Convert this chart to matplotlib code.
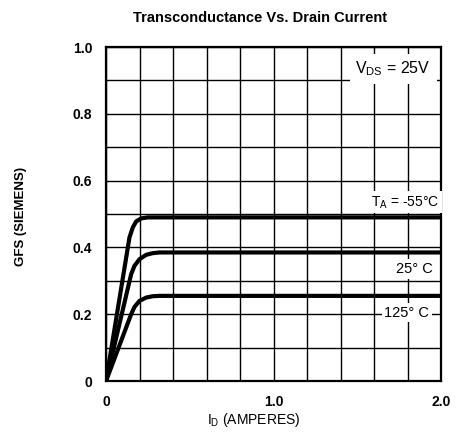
import matplotlib
matplotlib.use("Agg")
import matplotlib.pyplot as plt
import numpy as np

plt.rcParams['font.family'] = ['Liberation Sans', 'DejaVu Sans']

# Data
id_m55 = [0.0, 0.14, 0.16, 0.18, 0.21, 0.25, 0.30, 2.0]
gfs_m55 = [0.0, 0.43, 0.46, 0.478, 0.487, 0.49, 0.49, 0.49]
id_25 = [0.0, 0.15, 0.17, 0.20, 0.24, 0.28, 0.32, 2.0]
gfs_25 = [0.0, 0.32, 0.345, 0.365, 0.378, 0.383, 0.385, 0.385]
id_125 = [0.0, 0.15, 0.17, 0.20, 0.24, 0.28, 0.32, 2.0]
gfs_125 = [0.0, 0.20, 0.222, 0.240, 0.25, 0.254, 0.255, 0.255]

x_ticks = [0, 1.0, 2.0]
x_tick_labels = ["0", "1.0", "2.0"]
y_ticks = [0, 0.2, 0.4, 0.6, 0.8, 1.0]
y_tick_labels = ["0", "0.2", "0.4", "0.6", "0.8", "1.0"]

fig = plt.figure(figsize=(4.57, 4.32), dpi=100)
ax = fig.add_axes([0.232, 0.118, 0.733, 0.773])

ax.set_xlim(0, 2.0)
ax.set_ylim(0, 1.0)
ax.set_xticks(x_ticks)
ax.set_xticklabels(x_tick_labels, fontweight='bold', fontsize=10)
ax.set_yticks(y_ticks)
ax.set_yticklabels(y_tick_labels, fontweight='bold', fontsize=10)
ax.set_xticks(np.arange(0, 2.01, 0.2), minor=True)
ax.set_yticks(np.arange(0, 1.01, 0.1), minor=True)
ax.tick_params(axis='x', which='both', length=0, pad=10)
ax.tick_params(axis='y', which='both', length=0, pad=10)
ax.grid(which='both', color='black', linewidth=1.0)
ax.set_axisbelow(True)
for s in ax.spines.values():
    s.set_linewidth(1.6)

for xs, ys in [(id_m55, gfs_m55), (id_25, gfs_25), (id_125, gfs_125)]:
    ax.plot(xs, ys, color='black', linewidth=3.0, solid_capstyle='butt', zorder=3)

bbox = dict(facecolor='white', edgecolor='none', pad=2)
ax.text(1.94, 0.935, r"V$_\mathregular{DS}$ = 25V", ha='right', va='center', fontsize=11.5,
        bbox=dict(facecolor='white', edgecolor='none', pad=4), zorder=4)
ax.text(1.99, 0.535, r"T$_\mathregular{A}$ = -55°C", ha='right', va='center', fontsize=10,
        bbox=bbox, zorder=4)
ax.text(1.95, 0.335, "25° C", ha='right', va='center', fontsize=10.5, bbox=bbox, zorder=4)
ax.text(1.93, 0.205, "125° C", ha='right', va='center', fontsize=10.5, bbox=bbox, zorder=4)

fig.text(0.57, 0.958, "Transconductance Vs. Drain Current", ha='center', va='center',
         fontsize=10.5, fontweight='bold')
fig.text(0.045, 0.5, "GFS (SIEMENS)", rotation=90, ha='center', va='center',
         fontsize=9.5, fontweight='bold')
fig.text(0.555, 0.028, r"I$_\mathregular{D}$ (AMPERES)", ha='center', va='center', fontsize=10)

fig.savefig("out.png", dpi=100)
